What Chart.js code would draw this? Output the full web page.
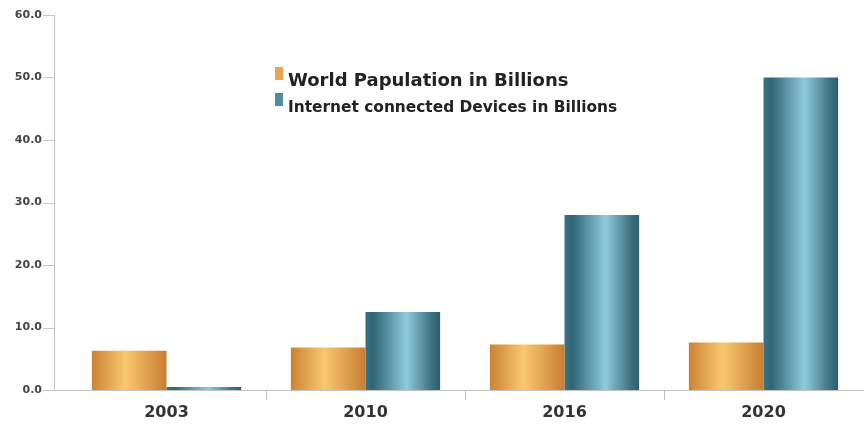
<!DOCTYPE html>
<html>
<head>
<meta charset="utf-8">
<script src="https://cdn.jsdelivr.net/npm/chart.js@4"></script>
<style>
  html, body { margin: 0; padding: 0; background: #fff; }
  #wrap { width: 864px; height: 424px; }
</style>
</head>
<body>
<div id="wrap"><canvas id="chart" width="864" height="424"></canvas></div>
<script>
// data
const years = ['2003', '2010', '2016', '2020'];
const population = [6.3, 6.8, 7.3, 7.6];
const devices = [0.5, 12.5, 28.0, 50.0];
const seriesNames = ['World Papulation in Billions', 'Internet connected Devices in Billions'];

const CAT_PCT = 0.75;

// colour stops for the "cylinder" look of each series
const orangeStops = [[0, '#cc8233'], [0.45, '#f7c86e'], [1, '#c97d33']];
const blueStops = [[0, '#3d7180'], [0.1, '#2f6574'], [0.55, '#8ecbdc'], [0.9, '#3a6f7c'], [1, '#2c5f6b']];

// horizontal gradient across one bar, computed from the x scale
function barGradient(ctx, stops) {
  const chart = ctx.chart;
  const xs = chart.scales.x;
  if (!chart.chartArea || !xs) return stops[1][1];
  const catW = xs.width / years.length;
  const barW = catW * CAT_PCT / 2;
  const center = xs.getPixelForValue(ctx.dataIndex);
  const left = center - barW + ctx.datasetIndex * barW;
  const g = chart.ctx.createLinearGradient(left, 0, left + barW, 0);
  stops.forEach(s => g.addColorStop(s[0], s[1]));
  return g;
}

// y axis line sits a bit left of the plot, with its own tick marks
const axisLines = {
  id: 'axisLines',
  afterDraw(chart) {
    const c = chart.ctx;
    const a = chart.chartArea;
    const ys = chart.scales.y;
    const ax = a.left - 13;
    c.save();
    c.strokeStyle = '#c4c4c4';
    c.lineWidth = 1;
    c.beginPath();
    c.moveTo(ax + 0.5, ys.getPixelForValue(60));
    c.lineTo(ax + 0.5, a.bottom);
    c.moveTo(ax, a.bottom + 0.5);
    c.lineTo(chart.width, a.bottom + 0.5);
    ys.ticks.forEach(t => {
      const y = Math.round(ys.getPixelForValue(t.value)) + 0.5;
      c.moveTo(ax - 11, y);
      c.lineTo(ax, y);
    });
    c.stroke();
    c.restore();
  }
};

// legend with two different text sizes
const legendBox = {
  id: 'legendBox',
  afterDraw(chart) {
    const c = chart.ctx;
    const rows = [
      { text: seriesNames[0], size: 18, y: 67, base: 86, color: '#e6a653' },
      { text: seriesNames[1], size: 15.4, y: 93, base: 112, color: '#4d8fa2' }
    ];
    c.save();
    rows.forEach(r => {
      c.fillStyle = r.color;
      c.fillRect(275, r.y, 8, 13);
      c.fillStyle = '#222';
      c.font = 'bold ' + r.size + 'px "DejaVu Sans"';
      c.textBaseline = 'alphabetic';
      c.fillText(r.text, 288, r.base);
    });
    c.restore();
  }
};

new Chart(document.getElementById('chart'), {
  type: 'bar',
  data: {
    labels: years,
    datasets: [{
      label: seriesNames[0],
      data: population,
      backgroundColor: ctx => barGradient(ctx, orangeStops),
      borderWidth: 0
    }, {
      label: seriesNames[1],
      data: devices,
      backgroundColor: ctx => barGradient(ctx, blueStops),
      borderWidth: 0
    }]
  },
  options: {
    responsive: false,
    animation: false,
    events: [],
    categoryPercentage: CAT_PCT,
    barPercentage: 1,
    layout: { padding: { top: 15, left: 7, right: 1, bottom: 0 } },
    plugins: {
      legend: { display: false },
      tooltip: { enabled: false }
    },
    scales: {
      x: {
        afterFit: s => { s.height = 34; },
        border: { display: false },
        grid: {
          drawOnChartArea: false,
          tickLength: 10,
          // only the inner category separators are drawn
          color: ctx => (ctx.type === 'tick' && ctx.index > 0) ? '#bdbdbd' : 'rgba(0,0,0,0)'
        },
        ticks: {
          padding: 3,
          color: '#333',
          font: { family: 'DejaVu Sans', size: 16, weight: 'bold' }
        }
      },
      y: {
        min: 0,
        max: 60,
        afterFit: s => { s.width = 60; },
        border: { display: false },
        grid: { display: false, drawTicks: true, tickLength: 25 },
        ticks: {
          stepSize: 10,
          padding: 0,
          color: '#444',
          callback: v => Number(v).toFixed(1),
          font: { family: 'DejaVu Sans', size: 11, weight: 'bold' }
        }
      }
    }
  },
  plugins: [axisLines, legendBox]
});
</script>
</body>
</html>
